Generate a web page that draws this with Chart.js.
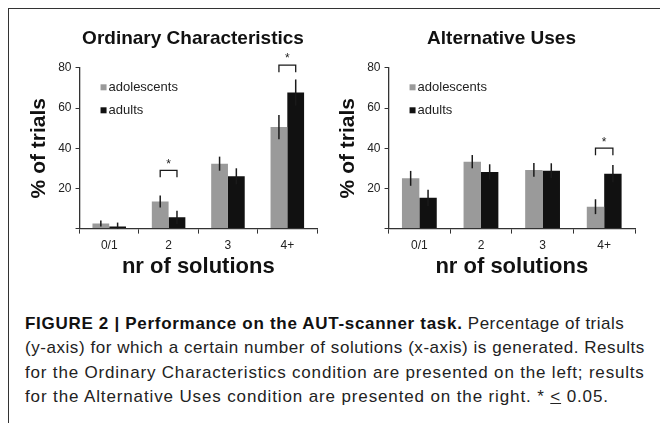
<!DOCTYPE html>
<html>
<head>
<meta charset="utf-8">
<script src="https://cdn.jsdelivr.net/npm/chart.js@4.4.1/dist/chart.umd.min.js"></script>
<style>
  html, body { margin: 0; padding: 0; background: #fff; overflow: hidden; }
  body { width: 660px; height: 423px; position: relative; }
  #frame { position: absolute; left: 8px; top: 8px; width: 700px; height: 500px;
           border-left: 1.5px solid #333; border-top: 1.5px solid #333; }
  .box { position: absolute; }
  #boxLeft { left: 8px; top: 9px; width: 370px; height: 280px; }
  #boxRight { left: 330px; top: 9px; width: 343px; height: 280px; }
  #caption { position: absolute; left: 25px; top: 312px; width: 660px;
             font-family: "Liberation Sans", Arial, sans-serif; font-size: 17px;
             letter-spacing: 0.5px; line-height: 24.3px; color: #222; white-space: nowrap; }
  #caption b { color: #111; letter-spacing: 0.7px; }
  #caption .l2 { letter-spacing: 0.55px; }
  #caption .l3 { letter-spacing: 0.82px; }
  #caption .l4 { letter-spacing: 0.87px; }
</style>
</head>
<body>
<div id="frame"></div>
<div class="box" id="boxLeft"><canvas id="chartLeft"></canvas></div>
<div class="box" id="boxRight"><canvas id="chartRight"></canvas></div>
<div id="caption">
  <b>FIGURE 2 | Performance on the AUT-scanner task.</b> Percentage of trials<br>
  <span class="l2">(y-axis) for which a certain number of solutions (x-axis) is generated. Results</span><br>
  <span class="l3">for the Ordinary Characteristics condition are presented on the left; results</span><br>
  <span class="l4">for the Alternative Uses condition are presented on the right. * <u>&lt;</u> 0.05.</span>
</div>
<script>
// categorias y valores
const categories = ["0/1", "2", "3", "4+"];
const groups = ["adolescents", "adults"];
const yTicks = [0, 20, 40, 60, 80];

// Ordinary Characteristics
const ocAdolescents = [2.5, 13.5, 32.3, 50.5];
const ocAdults = [1, 5.6, 26, 67.7];
const ocAdolescentsErr = [1.5, 3, 3.5, 6];
const ocAdultsErr = [2, 3.3, 4, 6.5];
const ocSig = [{ cat: "2", y: 29 }, { cat: "4+", y: 81.3 }];

// Alternative Uses
const auAdolescents = [25, 33.3, 29.2, 10.9];
const auAdults = [15.3, 28.2, 28.8, 27.3];
const auAdolescentsErr = [3.7, 3.3, 3.4, 3.7];
const auAdultsErr = [4, 3.8, 3.7, 4.3];
const auSig = [{ cat: "4+", y: 40 }];

const barColors = ["#9a9a9a", "#111111"];
const font = "'Liberation Sans', Arial, sans-serif";

// barras de error, corchetes y leyenda
const extras = {
  id: "extras",
  afterDatasetsDraw(chart) {
    const ctx = chart.ctx;
    const y = chart.scales.y;
    const opts = chart.options.plugins.extras;
    ctx.save();
    ctx.strokeStyle = "#1a1a1a";
    ctx.lineWidth = 1.5;
    chart.data.datasets.forEach((ds, i) => {
      const meta = chart.getDatasetMeta(i);
      meta.data.forEach((bar, j) => {
        const v = ds.data[j], e = ds.errors[j];
        ctx.beginPath();
        ctx.moveTo(bar.x, y.getPixelForValue(v + e));
        ctx.lineTo(bar.x, y.getPixelForValue(Math.max(0, v - e)));
        ctx.stroke();
      });
    });
    // corchetes de significancia
    ctx.lineWidth = 1.3;
    ctx.fillStyle = "#222";
    ctx.font = "12px " + font;
    ctx.textAlign = "center";
    ctx.textBaseline = "middle";
    opts.sig.forEach(s => {
      const j = chart.data.labels.indexOf(s.cat);
      const x1 = chart.getDatasetMeta(0).data[j].x;
      const x2 = chart.getDatasetMeta(1).data[j].x;
      const yy = y.getPixelForValue(s.y);
      ctx.beginPath();
      ctx.moveTo(x1, yy + 7);
      ctx.lineTo(x1, yy);
      ctx.lineTo(x2, yy);
      ctx.lineTo(x2, yy + 7);
      ctx.stroke();
      ctx.fillText("*", (x1 + x2) / 2, yy - 6);
    });
    // leyenda dentro del area
    const area = chart.chartArea;
    ctx.textAlign = "left";
    ctx.font = "13px " + font;
    chart.data.datasets.forEach((ds, i) => {
      const cy = area.top + 19.5 + i * 23;
      ctx.fillStyle = ds.backgroundColor;
      ctx.fillRect(area.left + 21, cy - 3, 6, 6);
      ctx.fillStyle = "#222";
      ctx.fillText(ds.label, area.left + 29, cy);
    });
    ctx.restore();
  }
};

function makeChart(id, title, adol, adul, adolErr, adulErr, sig, pad) {
  return new Chart(document.getElementById(id), {
    type: "bar",
    data: {
      labels: categories,
      datasets: [
        { label: groups[0], data: adol, errors: adolErr, backgroundColor: barColors[0] },
        { label: groups[1], data: adul, errors: adulErr, backgroundColor: barColors[1] }
      ]
    },
    options: {
      responsive: true,
      maintainAspectRatio: false,
      animation: false,
      layout: { padding: 0 },
      datasets: { bar: { barPercentage: 1.0, categoryPercentage: 0.565 } },
      plugins: {
        legend: { display: false },
        tooltip: { enabled: false },
        title: {
          display: true, text: title, color: "#111",
          font: { family: font, size: 19, weight: "bold" },
          padding: { top: 18, bottom: 18 }
        },
        extras: { sig: sig }
      },
      scales: {
        x: {
          grid: { display: true, drawOnChartArea: false, offset: true, color: "#333", tickLength: 5 },
          border: { color: "#333", width: 1.3 },
          ticks: { color: "#222", font: { family: font, size: 12 }, padding: 5 },
          title: {
            display: true, text: "nr of solutions", color: "#111",
            font: { family: font, size: 22, weight: "bold", lineHeight: 1 },
            padding: { top: -2, bottom: 11 }
          }
        },
        y: {
          min: yTicks[0], max: yTicks[yTicks.length - 1],
          afterBuildTicks: axis => { axis.ticks = yTicks.map(v => ({ value: v })); },
          grid: { display: true, drawOnChartArea: false, color: "#333", tickLength: 4 },
          border: { color: "#333", width: 1.3 },
          ticks: {
            color: "#222", font: { family: font, size: 12 }, padding: 4,
            callback: v => (v === 0 ? "" : v)
          },
          title: {
            display: true, text: "% of trials", color: "#111",
            font: { family: font, size: 21, weight: "bold" },
            padding: { top: pad.yTitle, bottom: 2 }
          }
        },
        // eje vacio a la derecha para centrar el titulo
        spacer: {
          position: "right", display: true,
          grid: { display: false }, border: { display: false },
          ticks: { display: false },
          afterFit: axis => { axis.width = pad.right; }
        }
      }
    },
    plugins: [extras]
  });
}

makeChart("chartLeft", "Ordinary Characteristics", ocAdolescents, ocAdults,
  ocAdolescentsErr, ocAdultsErr, ocSig, { right: 61, yTitle: 19 });
makeChart("chartRight", "Alternative Uses", auAdolescents, auAdults,
  auAdolescentsErr, auAdultsErr, auSig, { right: 38, yTitle: 6 });
</script>
</body>
</html>
